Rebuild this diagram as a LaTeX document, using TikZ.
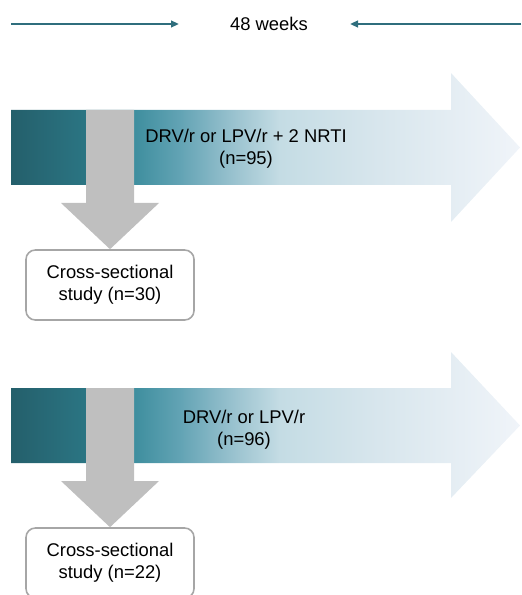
\documentclass[tikz,border=0pt]{standalone}
\usepackage{fontspec}
\setmainfont{Liberation Sans}
\usepackage{xcolor}
\usetikzlibrary{arrows.meta,positioning,calc}
\definecolor{linecol}{RGB}{47,110,125}
\definecolor{grayarrow}{RGB}{191,191,191}
\definecolor{boxline}{RGB}{166,166,166}
\definecolor{band0}{RGB}{36,95,107}
\definecolor{band1}{RGB}{43,117,131}
\definecolor{band2}{RGB}{62,142,158}
\definecolor{band3}{RGB}{98,163,180}
\definecolor{band4}{RGB}{150,192,205}
\definecolor{band5}{RGB}{196,220,228}
\definecolor{band6}{RGB}{216,230,237}
\definecolor{band7}{RGB}{240,244,249}
\pgfdeclarehorizontalshading{bandshade}{100bp}{color(0bp)=(band0); color(25bp)=(band0); color(32.35bp)=(band1); color(37.06bp)=(band2); color(41.57bp)=(band3); color(46.47bp)=(band4); color(51.37bp)=(band5); color(61.18bp)=(band6); color(75bp)=(band7); color(100bp)=(band7)}

\begin{document}
\begin{tikzpicture}[x=0.75pt, y=-0.75pt,
				txt/.style={font=\fontsize{13.8}{16.5}\selectfont, align=center, inner sep=0pt},
				study/.style={rectangle, rounded corners=7pt, draw=boxline, line width=1.2pt, fill=white, minimum width=126pt, minimum height=52.5pt, font=\fontsize{13.8}{16.5}\selectfont, align=center},
				timeline/.style={draw=linecol, line width=1.5pt, -{Triangle[length=6pt, width=5pt]}},
				band/.style={shading=bandshade},
				drop/.style={fill=grayarrow}]
				\useasboundingbox (0,0) rectangle (521,595);
				
				% time span
				\node[txt] (weeks) at (269,24) {48 weeks};
				\coordinate (tleft) at (11,24);
				\coordinate (tleftend) at (179,24);
				\coordinate (tright) at (521,24);
				\coordinate (trightend) at (350,24);
				\draw[timeline] (tleft) -- (tleftend);
				\draw[timeline] (tright) -- (trightend);
				
				% arm 1
				\shade[band] (11,110) -- (451,110) -- (451,73) -- (520,147.5) -- (451,222) -- (451,185) -- (11,185) -- cycle;
				\node[txt] (arm1) at (246,149) {DRV/r or LPV/r + 2 NRTI\\(n=95)};
				\node[study] (cs1) at (110,285) {Cross-sectional\\study (n=30)};
				\fill[drop] (86,110) -- (134,110) -- (134,203) -- (159,203) -- (cs1.north) -- (61,203) -- (86,203) -- cycle;
				
				% arm 2
				\shade[band] (11,388) -- (451,388) -- (451,352) -- (520,425.5) -- (451,498) -- (451,463) -- (11,463) -- cycle;
				\node[txt] (arm2) at (244,430) {DRV/r or LPV/r\\(n=96)};
				\node[study] (cs2) at (110,563) {Cross-sectional\\study (n=22)};
				\fill[drop] (86,388) -- (134,388) -- (134,481) -- (159,481) -- (cs2.north) -- (61,481) -- (86,481) -- cycle;
			\end{tikzpicture}
\end{document}
